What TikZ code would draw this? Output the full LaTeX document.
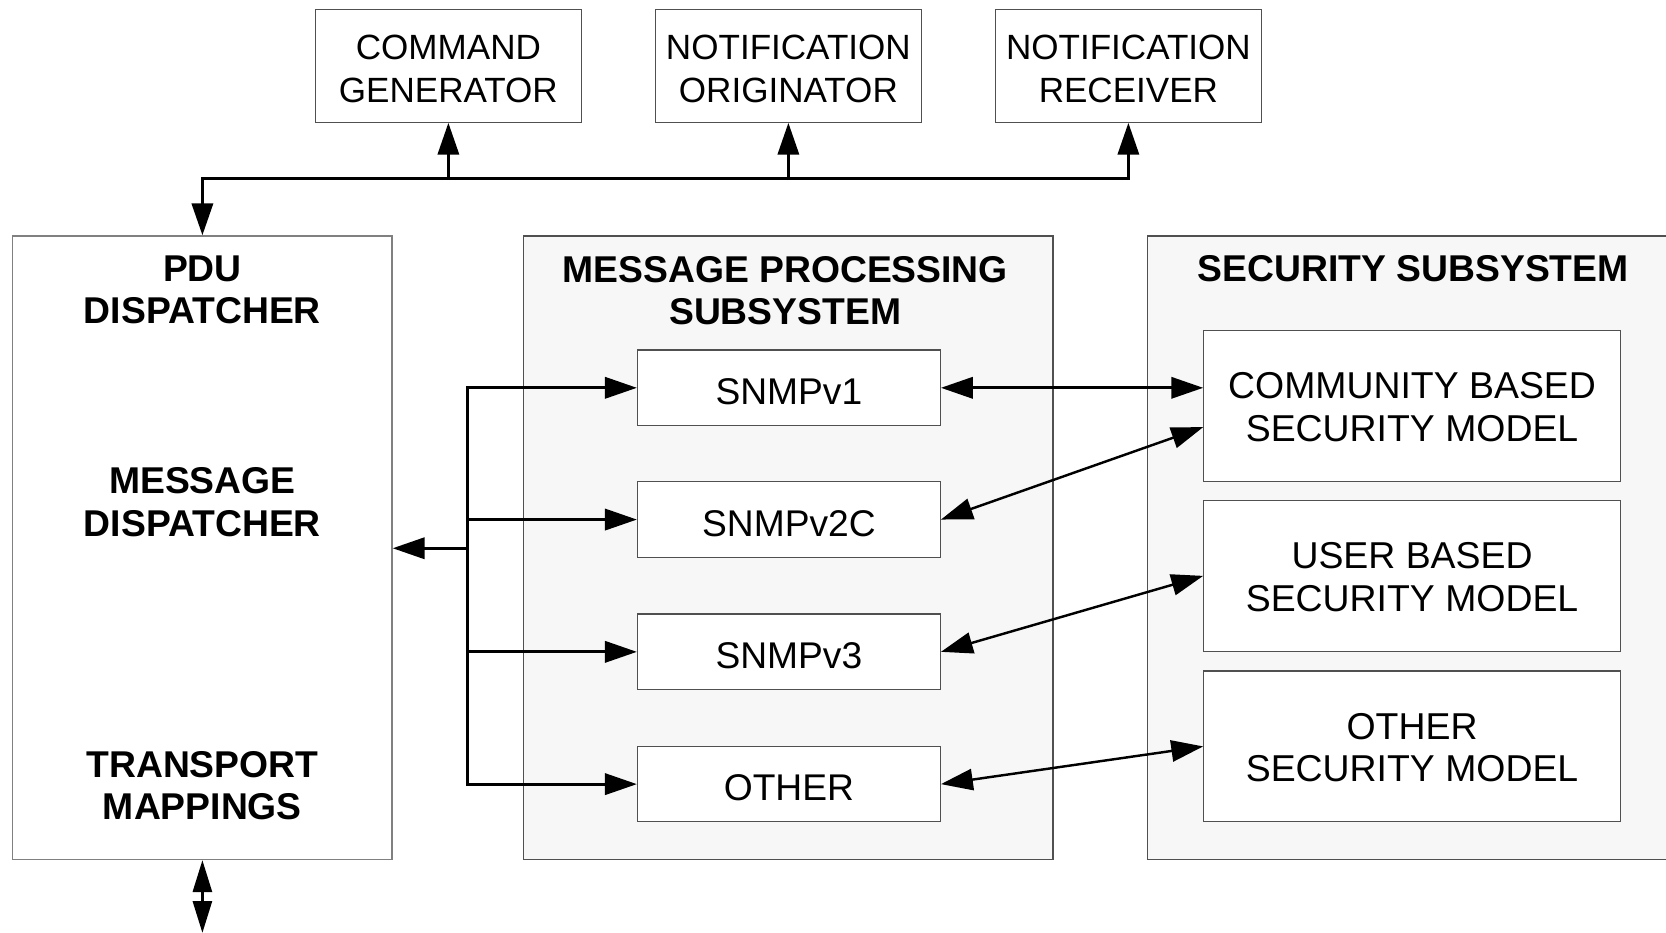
\documentclass[tikz,border=0pt]{standalone}
\usepackage{fontspec}
\setmainfont{Liberation Sans}
\usetikzlibrary{arrows.meta,calc}
\definecolor{panel}{HTML}{F7F7F7}
\definecolor{edge}{HTML}{505050}
\definecolor{softedge}{HTML}{808080}
\begin{document}
\begin{tikzpicture}[x=1pt,y=-1pt,
  ttl/.style={font=\fontsize{35.1}{40}\selectfont\bfseries, align=center},
  box/.style={draw=edge, line width=1.2pt, fill=white, align=center, inner sep=0pt},
  % text height = natural height of the lettering + twice its downward offset
  appbox/.style={box, font=\fontsize{33}{40}\selectfont, text height=68.6pt,
    minimum width=250pt, minimum height=106pt},
  mpbox/.style={box, font=\fontsize{35}{40}\selectfont, text height=32pt,
    minimum width=285pt, minimum height=71pt},
  secbox/.style={box, font=\fontsize{35.2}{40}\selectfont, text height=67.2pt,
    minimum width=392pt, minimum height=142pt},
  panelbox/.style={draw=edge, line width=1.2pt, fill=panel},
  tip/.tip={Triangle[length=30pt,width=20pt]},
  conn/.style={line width=2.6pt, line cap=rect, -tip},
  biconn/.style={line width=2.3pt, tip-tip},
]
\useasboundingbox (0,0) rectangle (1568,878);

% applications on top
\node[appbox] (cg) at (422,62) {COMMAND\\GENERATOR};
\node[appbox] (no) at (742,62) {NOTIFICATION\\ORIGINATOR};
\node[appbox] (nr) at (1062,62) {NOTIFICATION\\RECEIVER};

% dispatcher block
\node[draw=softedge, line width=1.2pt, fill=white, minimum width=357pt, minimum height=587pt] (pdu) at (190.5,515.5) {};
\node[ttl] (pdut) at (190.5,273) {PDU\\DISPATCHER};
\node[ttl] (msgt) at (190.5,472.5) {MESSAGE\\DISPATCHER};
\node[ttl] (trnt) at (190.5,739.5) {TRANSPORT\\MAPPINGS};

% message processing subsystem
\node[panelbox, minimum width=498pt, minimum height=587pt] (mp) at (742,515.5) {};
\node[ttl] (mpt) at (739,273.5) {MESSAGE PROCESSING\\SUBSYSTEM};
\node[mpbox] (v1) at (742.5,365) {SNMPv1};
\node[mpbox] (v2) at (742.5,489) {SNMPv2C};
\node[mpbox] (v3) at (742.5,613.5) {SNMPv3};
\node[mpbox] (oth) at (742.5,738) {OTHER};

% security subsystem
\node[panelbox, minimum width=500pt, minimum height=587pt] (sec) at (1330,515.5) {};
\node[ttl] (sect) at (1330,253) {SECURITY SUBSYSTEM};
\node[secbox] (cbsm) at (1329,382) {COMMUNITY BASED\\SECURITY MODEL};
\node[secbox] (usm) at (1329,542) {USER BASED\\SECURITY MODEL};
\node[secbox] (osm) at (1329,702.5) {OTHER\\SECURITY MODEL};

% application bus
\coordinate (busL) at (190.5,168);
\coordinate (busR) at (1062,168);
\draw[conn] (busR) -- (busL) -- (pdu.north);
\draw[conn] (cg.south |- busL) -- (cg.south);
\draw[conn] (no.south |- busL) -- (no.south);
\draw[conn] (nr.south |- busL) -- (nr.south);

% dispatcher to message processing models
\coordinate (br) at (440,516);
\draw[conn] (br) -- (br -| pdu.east);
\draw[conn] (v1.west -| br) -- (oth.west -| br) -- (oth.west);
\draw[conn] (v1.west -| br) -- (v1.west);
\draw[conn] (v2.west -| br) -- (v2.west);
\draw[conn] (v3.west -| br) -- (v3.west);

% message processing to security models
\draw[biconn, line width=2.6pt] (v1.east) -- (v1.east -| cbsm.west);
\draw[biconn] (v2.east) -- ($(cbsm.west)+(0,20)$);
\draw[biconn] (v3.east) -- (usm.west);
\draw[biconn] (oth.east) -- (osm.west);

% transport side
\coordinate (net) at (190.5,878);
\draw[line width=2.3pt, {Triangle[length=30pt,width=18pt]}-{Triangle[length=30pt,width=18pt]}] (pdu.south) -- (net);
\end{tikzpicture}
\end{document}
